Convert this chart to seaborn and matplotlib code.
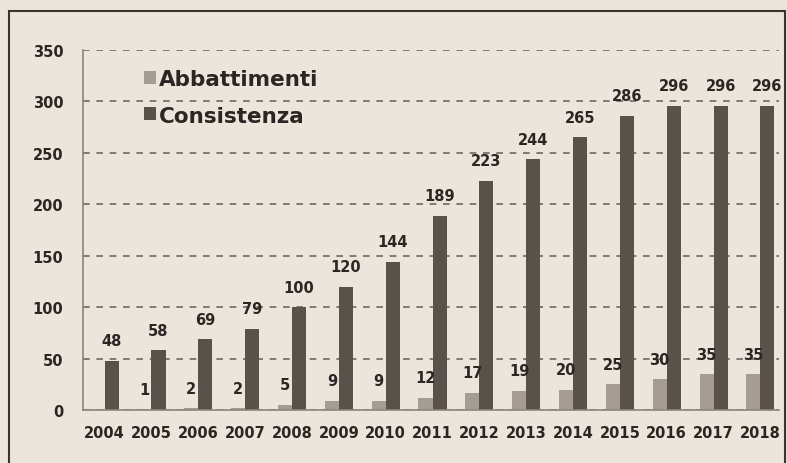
import matplotlib
matplotlib.use('Agg')
import matplotlib.pyplot as plt
import seaborn as sns
import pandas as pd
from matplotlib.patches import Rectangle

# dati
anni = [str(a) for a in range(2004, 2019)]
abbattimenti = [0, 1, 2, 2, 5, 9, 9, 12, 17, 19, 20, 25, 30, 35, 35]
consistenza = [48, 58, 69, 79, 100, 120, 144, 189, 223, 244, 265, 286, 296, 296, 296]
serie = ['Abbattimenti', 'Consistenza']
colori = ['#a59c93', '#5b514b']

df = pd.DataFrame({
    'anno': anni * 2,
    'valore': abbattimenti + consistenza,
    'serie': [serie[0]] * len(anni) + [serie[1]] * len(anni),
})

sns.set_style('white')
plt.rcParams['font.family'] = ['DejaVu Sans']
sfondo = '#ece5dc'
testo = '#2b2623'

fig = plt.figure(figsize=(7.87, 4.64), dpi=100, facecolor=sfondo)
ax = fig.add_axes([0.105, 0.114, 0.885, 0.776])
ax.set_facecolor(sfondo)

sns.barplot(data=df, x='anno', y='valore', hue='serie', hue_order=serie,
            palette=colori, width=0.6, saturation=1, linewidth=0,
            ax=ax, legend=True)

ax.set_ylim(0, 350)
ax.set_xlim(-0.47, 14.4)
ax.set_yticks(range(0, 351, 50))
ax.yaxis.grid(True, linestyle=(0, (4, 4)), color='#6f6862', linewidth=1.2)
ax.set_axisbelow(True)
ax.set_xlabel('')
ax.set_ylabel('')
for s in ['top', 'right']:
    ax.spines[s].set_visible(False)
for s in ['left', 'bottom']:
    ax.spines[s].set_color('#8c857e')
    ax.spines[s].set_linewidth(1.2)
ax.tick_params(axis='both', length=0, labelsize=10.5, labelcolor=testo)
ax.tick_params(axis='y', pad=14)
ax.tick_params(axis='x', pad=11)
for t in ax.get_xticklabels() + ax.get_yticklabels():
    t.set_fontweight('bold')

# etichette dati
ax.bar_label(ax.containers[0], labels=[str(v) if v else '' for v in abbattimenti],
             padding=9, fontsize=10.5, fontweight='bold', color=testo)
ax.bar_label(ax.containers[1], labels=[str(v) for v in consistenza],
             padding=9, fontsize=10.5, fontweight='bold', color=testo)

leg = ax.legend(loc='upper left', bbox_to_anchor=(0.06, 1.0), frameon=False,
                prop={'size': 15.5, 'weight': 'bold'}, handlelength=0.55,
                handleheight=0.55, handletextpad=0.15, labelspacing=0.75)
for t in leg.get_texts():
    t.set_color(testo)

# cornice esterna
fig.patches.append(Rectangle((0.011, -0.01), 0.986, 0.985, transform=fig.transFigure,
                             fill=False, edgecolor='#3a3430', linewidth=1.5))

fig.savefig('out.png', dpi=100, facecolor=sfondo)
